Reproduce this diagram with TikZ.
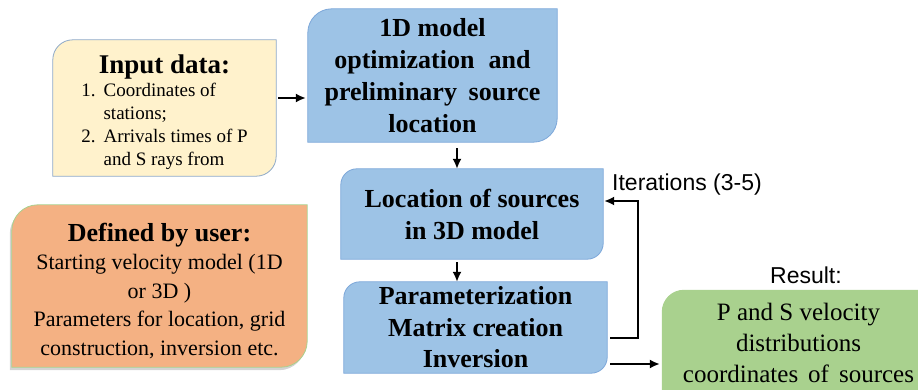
\documentclass[tikz,border=0pt]{standalone}
\usepackage{fontspec}
\setmainfont{Liberation Serif}
\setsansfont{Liberation Sans}
\usetikzlibrary{calc, positioning, arrows.meta, backgrounds, shadows}

\definecolor{inputfill}{HTML}{FFF2CC}
\definecolor{inputline}{HTML}{8EA9C8}
\definecolor{bluefill}{HTML}{9DC3E6}
\definecolor{blueline}{HTML}{7DA7D9}
\definecolor{userfill}{HTML}{F4B183}
\definecolor{userline}{HTML}{A9D18E}
\definecolor{resfill}{HTML}{A9D18E}

\tikzset{
  boxtext/.style={align=center, inner sep=0pt},
  bluetext/.style={boxtext, font=\fontsize{26}{32}\selectfont\bfseries},
  arr/.style={line width=1.8pt, -{Latex[length=10pt,width=9pt]}},
  labeltext/.style={font=\sffamily\fontsize{23}{27}\selectfont, inner sep=0pt},
}

% box with round top-left and bottom-right corners
\newcommand\diagbox[3]{%
  \path[#3] ([yshift=-#2]#1.north west) arc[start angle=180, end angle=90, radius=#2]
    -- (#1.north east) -- ([yshift=#2]#1.south east)
    arc[start angle=0, end angle=-90, radius=#2]
    -- (#1.south west) -- cycle;}

\begin{document}
\begin{tikzpicture}[x=1pt, y=1pt]
\useasboundingbox (0,0) rectangle (918,-390);

% Input and user settings
\node[boxtext, minimum width=223pt, minimum height=136pt] (inp) at (164.5,-108)
  {{\fontsize{27}{30}\selectfont\bfseries\rule{0pt}{30pt}Input data:}\\
   \fontsize{19}{23}\selectfont
   \begin{tabular}{@{}r@{\hspace{8pt}}l@{}}
   1. & Coordinates of\\ & stations;\\ 2. & Arrivals times of P\\ & and S rays from
   \end{tabular}\hspace{16pt}};
\node[boxtext, font=\fontsize{22}{28.5}\selectfont, minimum width=295pt, minimum height=162pt] (usr) at (159.5,-286)
  {{\fontsize{26}{30}\selectfont\bfseries\rule{0pt}{28pt}Defined by user:}\\
   Starting velocity model (1D\\ or 3D )\\
   Parameters for location, grid\\ construction,  inversion etc.};

% Processing steps
\node[bluetext, minimum width=249pt, minimum height=133pt] (opt) at (432.5,-75.5)
  {1D model\\ optimization\hspace{0.3em} and\\ preliminary\hspace{0.2em} source\\ location};
\node[bluetext, minimum width=262pt, minimum height=90pt] (loc) at (472,-214)
  {Location of sources\\ in 3D model};
\node[bluetext, font=\fontsize{26}{31.5}\selectfont\bfseries, minimum width=263pt, minimum height=91pt] (par) at (475.5,-327.5)
  {Parameterization\\ Matrix creation\\ Inversion};

% Result
\node[boxtext, font=\fontsize{25}{31}\selectfont, minimum width=273pt, minimum height=110pt] (res) at (798.5,-345)
  {P and S velocity\\ distributions\\ coordinates\hspace{0.15em} of\hspace{0.15em} sources\rule[-4pt]{0pt}{4pt}};
\node[labeltext, anchor=base west] (iter) at (612,-191) {Iterations (3-5)};
\node[labeltext, anchor=base west] (reslbl) at (770,-283) {Result:};

% Box shapes
\begin{scope}[on background layer]
\diagbox{inp}{20pt}{fill=inputfill, draw=inputline, line width=0.8pt}
\diagbox{usr}{26pt}{fill=userfill, draw=userline, line width=0.8pt,
  drop shadow={shadow xshift=-2pt, shadow yshift=-3pt, opacity=0.35}}
\diagbox{opt}{24pt}{fill=bluefill, draw=blueline, line width=0.8pt}
\diagbox{loc}{16pt}{fill=bluefill, draw=blueline, line width=0.8pt}
\diagbox{par}{16pt}{fill=bluefill, draw=blueline, line width=0.8pt}
\diagbox{res}{22pt}{fill=resfill}
\end{scope}

% Connectors
\coordinate (inpout) at ([xshift=2pt, yshift=10pt]inp.east);
\coordinate (downx) at (457,0);
\coordinate (loopx) at (638,0);
\draw[arr, shorten >=2pt] (inpout) -- (inpout -| opt.west);
\draw[arr] ([yshift=-6pt]opt.south -| downx) -- (loc.north -| downx);
\draw[arr] ([yshift=-3pt]loc.south -| downx) -- (par.north -| downx);
\draw[arr] ([xshift=3pt, yshift=-10.5pt]par.east) -| ([yshift=13pt]loc.east -| loopx)
  -- ([xshift=1pt, yshift=13pt]loc.east);
\draw[arr, shorten >=2pt] ([xshift=3pt, yshift=-36.5pt]par.east) -- ([yshift=-36.5pt]par.east -| res.west);
\end{tikzpicture}
\end{document}
